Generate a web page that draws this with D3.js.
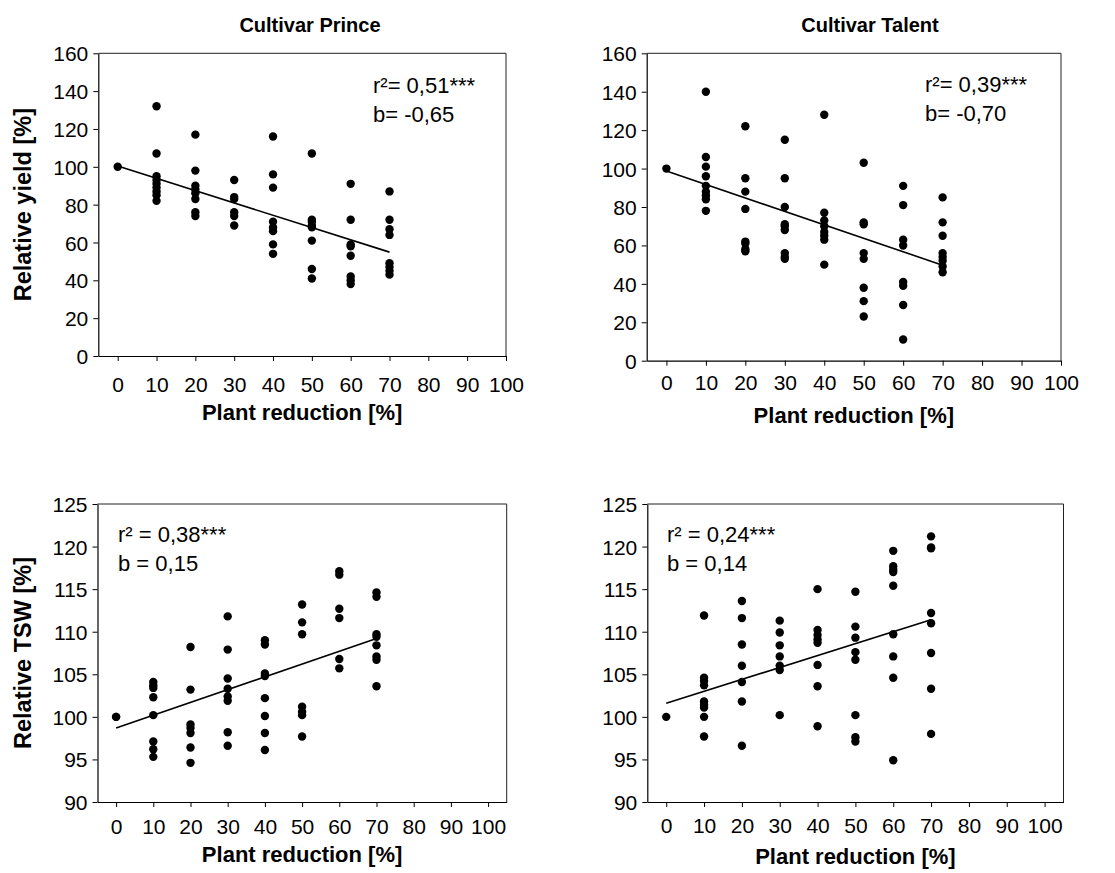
<!DOCTYPE html>
<html>
<head>
<meta charset="utf-8">
<script src="https://cdn.jsdelivr.net/npm/d3@7"></script>
<style>
  html, body { margin: 0; padding: 0; background: #fff; }
  svg { display: block; font-family: "Liberation Sans", Arial, sans-serif; }
</style>
</head>
<body>
<svg id="fig" width="1115" height="873"></svg>
<script>
// Plant reduction levels (x values, %)
const plantReduction = [0, 10, 20, 30, 40, 50, 60, 70];
const xTicks = [0, 10, 20, 30, 40, 50, 60, 70, 80, 90, 100];

// Relative yield [%], cultivar Prince, one list per reduction level
const princeYield = [
  [100],
  [132, 107, 95, 93, 91, 89, 87, 85, 82],
  [117, 98, 90, 88, 86, 83, 76, 74],
  [93, 84, 83, 76, 74, 69],
  [116, 96, 89, 71, 68, 66, 59, 54],
  [107, 72, 71, 69, 68, 61, 46, 41],
  [91, 72, 59, 58, 53, 42, 40, 38],
  [87, 72, 67, 64, 49, 47, 45, 43]
];

// Relative yield [%], cultivar Talent
const talentYield = [
  [100],
  [140, 106, 101, 96, 91, 88, 86, 84, 78],
  [122, 95, 88, 79, 62, 61, 58, 57],
  [115, 95, 80, 71, 70, 68, 56, 54, 53],
  [128, 77, 73, 70, 67, 65, 63, 50],
  [103, 72, 71, 56, 53, 38, 31, 23],
  [91, 81, 63, 60, 41, 39, 29, 11],
  [85, 72, 65, 56, 54, 52, 49, 46]
];

// Relative thousand-seed weight [%], cultivar Prince
const princeTSW = [
  [100, 100],
  [104.1, 103.7, 103.4, 102.3, 100.2, 97.1, 96.2, 95.3],
  [108.2, 103.2, 99.1, 98.7, 98.1, 96.4, 94.6],
  [111.8, 107.9, 104.5, 103.3, 102.4, 101.9, 98.2, 96.6],
  [109, 108.5, 105.1, 104.8, 102.2, 100.1, 98.1, 96.1],
  [113.2, 111.1, 109.7, 101.2, 100.6, 100.2, 97.7],
  [117.1, 116.7, 112.7, 111.6, 106.8, 105.7],
  [114.6, 114.1, 109.7, 109.4, 108.4, 107.1, 106.7, 103.6]
];

// Relative thousand-seed weight [%], cultivar Talent
const talentTSW = [
  [100],
  [111.9, 104.6, 104.2, 103.7, 101.8, 101.4, 101.1, 100, 97.7],
  [113.6, 111.6, 108.5, 106, 104.1, 101.8, 96.6],
  [111.3, 109.9, 108.4, 107.1, 106, 105.5, 100.2],
  [115, 110.2, 109.6, 109.1, 108.7, 106.1, 103.6, 98.9],
  [114.7, 110.6, 109.3, 107.6, 106.7, 100.2, 97.6, 97.1],
  [119.5, 117.7, 117.3, 117, 115.4, 109.7, 107.1, 104.6, 94.9],
  [121.2, 119.9, 119.8, 112.2, 111, 107.5, 103.3, 98]
];

// Linear fits: [intercept, slope]
const princeYieldFit = [100.4, -0.65];
const talentYieldFit = [98.7, -0.70];
const princeTSWFit = [98.7, 0.15];
const talentTSWFit = [101.6, 0.14];
const fitRange = [0, 70];

// Statistics annotations
const princeYieldStats = ["r\u00B2= 0,51***", "b= -0,65"];
const talentYieldStats = ["r\u00B2= 0,39***", "b= -0,70"];
const princeTSWStats = ["r\u00B2 = 0,38***", "b = 0,15"];
const talentTSWStats = ["r\u00B2 = 0,24***", "b = 0,14"];

const yieldTicks = [0, 20, 40, 60, 80, 100, 120, 140, 160];
const tswTicks = [90, 95, 100, 105, 110, 115, 120, 125];

const titles = ["Cultivar Prince", "Cultivar Talent"];
const xTitle = "Plant reduction [%]";
const yTitles = ["Relative yield [%]", "Relative TSW [%]"];

const svg = d3.select("#fig");

const panels = [
  { box: [98.3, 506, 53.3, 356], xDom: [-5, 100], yDom: [0, 160], yTicks: yieldTicks,
    data: princeYield, fit: princeYieldFit, stats: princeYieldStats,
    statPos: [373, 93], xLabelY: 392, xTitleY: 420, title: titles[0], titleX: 310, yTitle: yTitles[0] },
  { box: [646.7, 1061, 53.3, 360.7], xDom: [-5, 100], yDom: [0, 160], yTicks: yieldTicks,
    data: talentYield, fit: talentYieldFit, stats: talentYieldStats,
    statPos: [925, 92], xLabelY: 390, xTitleY: 423, title: titles[1], titleX: 870 },
  { box: [97.5, 506.7, 504, 802], xDom: [-5, 105], yDom: [90, 125], yTicks: tswTicks,
    data: princeTSW, fit: princeTSWFit, stats: princeTSWStats,
    statPos: [118, 542], xLabelY: 834, xTitleY: 862, yTitle: yTitles[1] },
  { box: [647.3, 1063.5, 504, 802], xDom: [-5, 105], yDom: [90, 125], yTicks: tswTicks,
    data: talentTSW, fit: talentTSWFit, stats: talentTSWStats,
    statPos: [667, 542], xLabelY: 833, xTitleY: 864 }
];

panels.forEach(p => {
  const [x0, x1, y0, y1] = p.box;
  const x = d3.scaleLinear().domain(p.xDom).range([x0, x1]);
  const y = d3.scaleLinear().domain(p.yDom).range([y1, y0]);
  const g = svg.append("g");

  // frame (top and right edges)
  g.append("path")
    .attr("d", `M${x0},${y0}H${x1}V${y1}`)
    .attr("fill", "none").attr("stroke", "#222").attr("stroke-width", 1);

  // y axis
  const ya = g.append("g").attr("transform", `translate(${x0},0)`)
    .call(d3.axisLeft(y).tickValues(p.yTicks).tickSize(5).tickPadding(5).tickSizeOuter(0));
  ya.select(".domain").attr("stroke", "#000").attr("stroke-width", 1.2);
  ya.selectAll("line").attr("stroke", "#000");
  ya.selectAll("text").attr("font-size", 21).attr("fill", "#000")
    .attr("font-family", "Liberation Sans, Arial, sans-serif").attr("dy", "0.36em");

  // x axis
  const xa = g.append("g").attr("transform", `translate(0,${y1})`)
    .call(d3.axisBottom(x).tickValues(xTicks).tickSize(5).tickSizeOuter(0));
  xa.select(".domain").attr("stroke", "#000").attr("stroke-width", 1.2);
  xa.selectAll("line").attr("stroke", "#000");
  xa.selectAll("text").attr("font-size", 21).attr("fill", "#000")
    .attr("font-family", "Liberation Sans, Arial, sans-serif")
    .attr("y", p.xLabelY - y1).attr("dy", 0);

  // regression line
  const fx = d => p.fit[0] + p.fit[1] * d;
  g.append("line")
    .attr("x1", x(fitRange[0])).attr("y1", y(fx(fitRange[0])))
    .attr("x2", x(fitRange[1])).attr("y2", y(fx(fitRange[1])))
    .attr("stroke", "#000").attr("stroke-width", 1.6);

  // points
  const pts = [];
  p.data.forEach((vals, i) => vals.forEach(v => pts.push([plantReduction[i], v])));
  g.selectAll("circle.pt").data(pts).join("circle")
    .attr("class", "pt")
    .attr("cx", d => x(d[0])).attr("cy", d => y(d[1]))
    .attr("r", 4.2).attr("fill", "#000");

  // statistics
  p.stats.forEach((s, i) => {
    g.append("text").attr("x", p.statPos[0]).attr("y", p.statPos[1] + i * 29)
      .attr("font-size", 22).attr("fill", "#000").text(s);
  });

  // x title
  g.append("text").attr("x", (x0 + x1) / 2).attr("y", p.xTitleY)
    .attr("text-anchor", "middle").attr("font-size", 22).attr("font-weight", "bold")
    .text(xTitle);

  if (p.title) {
    g.append("text").attr("x", p.titleX).attr("y", 32)
      .attr("text-anchor", "middle").attr("font-size", 20).attr("font-weight", "bold")
      .text(p.title);
  }
  if (p.yTitle) {
    const cy = (y0 + y1) / 2;
    g.append("text").attr("transform", `translate(31,${cy}) rotate(-90)`)
      .attr("text-anchor", "middle").attr("font-size", 23.5).attr("font-weight", "bold")
      .text(p.yTitle);
  }
});
</script>
</body>
</html>
